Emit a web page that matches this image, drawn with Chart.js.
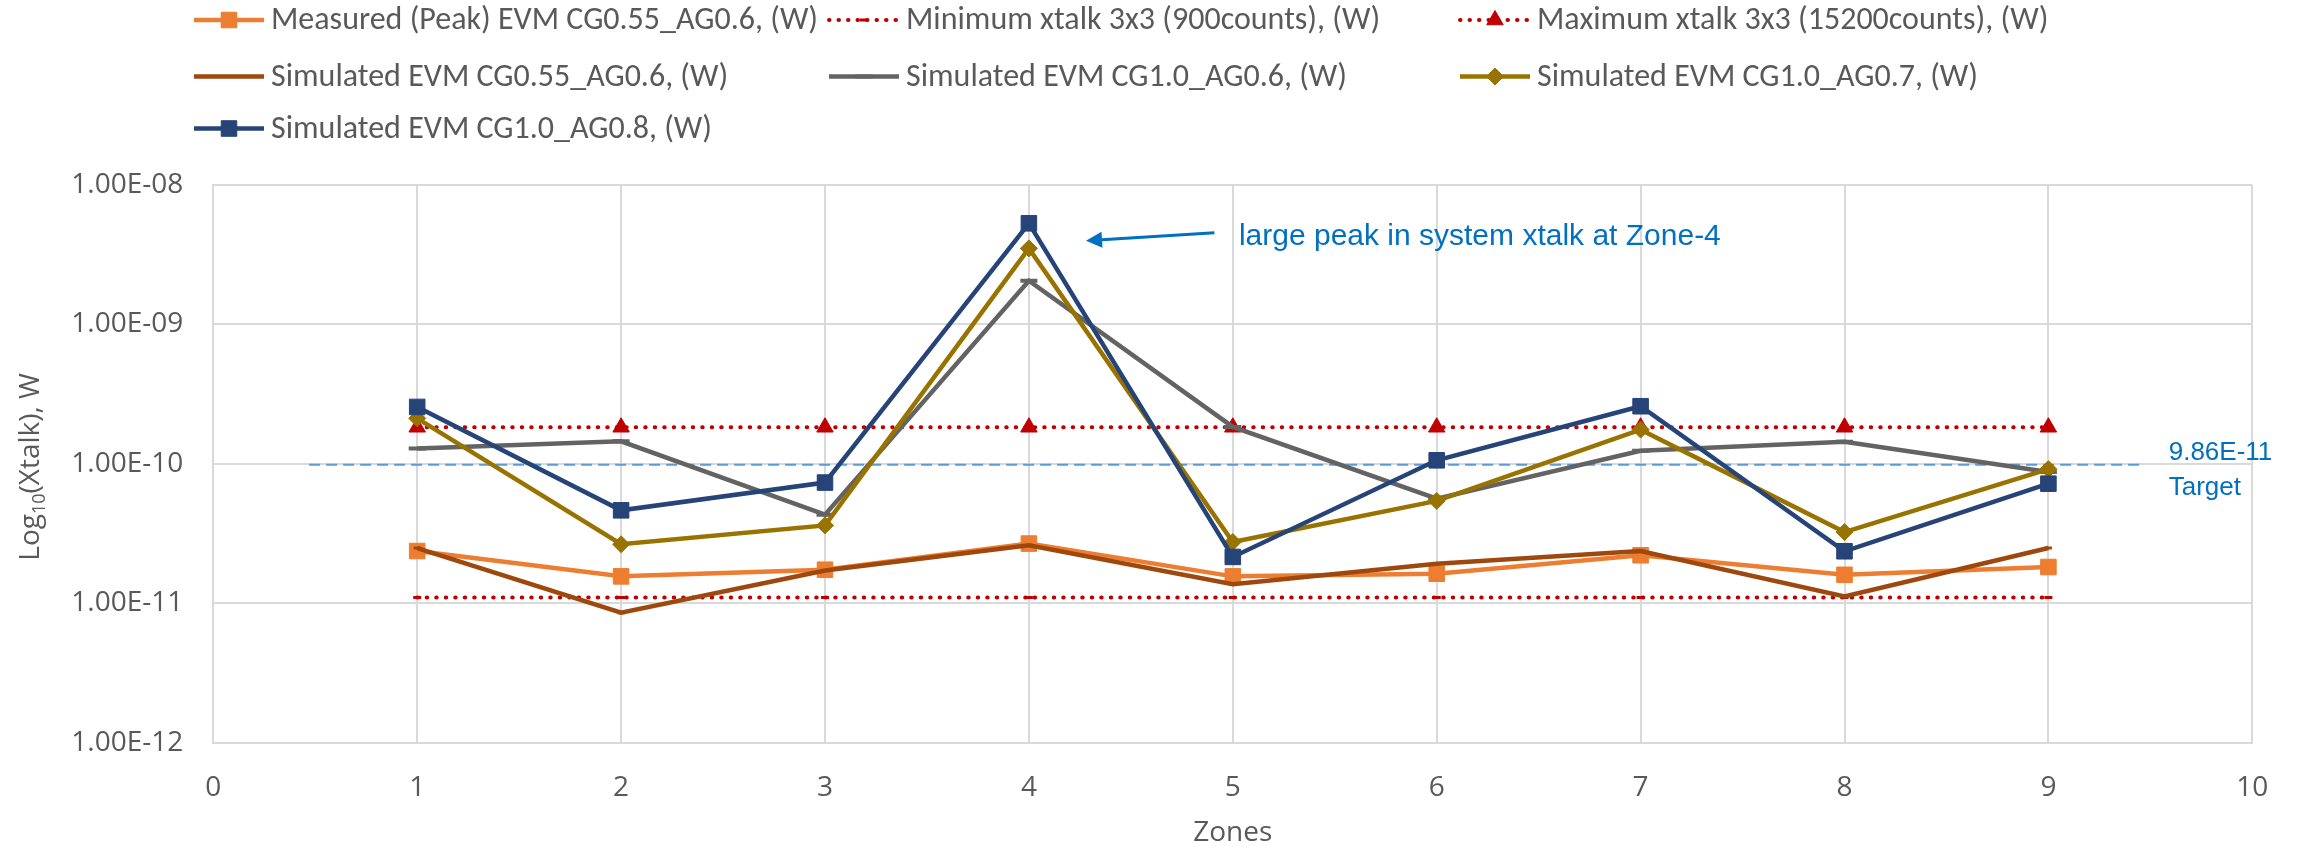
<!DOCTYPE html>
<html>
<head>
<meta charset="utf-8">
<title>Crosstalk per zone</title>
<script src="https://cdn.jsdelivr.net/npm/chart.js@4.4.1/dist/chart.umd.min.js"></script>
<style>
  html, body { margin: 0; padding: 0; background: #ffffff; }
  #wrap { width: 2303px; height: 846px; position: relative; }
</style>
</head>
<body>
<div id="wrap"><canvas id="xtalk"></canvas></div>
<script>
// ---- data ----
const zones = [1, 2, 3, 4, 5, 6, 7, 8, 9];

const measuredPeakCG055AG06 = [2.37e-11, 1.56e-11, 1.74e-11, 2.68e-11, 1.56e-11, 1.63e-11, 2.21e-11, 1.60e-11, 1.82e-11];
const minXtalk900 = [1.10e-11, 1.10e-11, 1.10e-11, 1.10e-11, 1.10e-11, 1.10e-11, 1.10e-11, 1.10e-11, 1.10e-11];
const maxXtalk15200 = [1.83e-10, 1.83e-10, 1.83e-10, 1.83e-10, 1.83e-10, 1.83e-10, 1.83e-10, 1.83e-10, 1.83e-10];
const simCG055AG06 = [2.49e-11, 8.55e-12, 1.72e-11, 2.61e-11, 1.37e-11, 1.92e-11, 2.37e-11, 1.12e-11, 2.49e-11];
const simCG10AG06 = [1.29e-10, 1.45e-10, 4.32e-11, 2.06e-9, 1.84e-10, 5.63e-11, 1.24e-10, 1.44e-10, 8.75e-11];
const simCG10AG07 = [2.12e-10, 2.65e-11, 3.62e-11, 3.51e-9, 2.75e-11, 5.42e-11, 1.76e-10, 3.24e-11, 9.16e-11];
const simCG10AG08 = [2.56e-10, 4.64e-11, 7.34e-11, 5.31e-9, 2.15e-11, 1.06e-10, 2.59e-10, 2.36e-11, 7.21e-11];

const targetLevel = 9.86e-11;
const targetSpan = [0.47, 9.47];

const seriesLabels = [
  'Measured (Peak) EVM CG0.55_AG0.6, (W)',
  'Minimum xtalk 3x3 (900counts), (W)',
  'Maximum xtalk 3x3 (15200counts), (W)',
  'Simulated EVM CG0.55_AG0.6, (W)',
  'Simulated EVM CG1.0_AG0.6, (W)',
  'Simulated EVM CG1.0_AG0.7, (W)',
  'Simulated EVM CG1.0_AG0.8, (W)'
];

const xTickValues = [0, 1, 2, 3, 4, 5, 6, 7, 8, 9, 10];
const yTickValues = [1e-12, 1e-11, 1e-10, 1e-9, 1e-8];
const yTickLabels = ['1.00E-12', '1.00E-11', '1.00E-10', '1.00E-09', '1.00E-08'];

const xAxisTitle = 'Zones';
const yAxisTitle = ['Log', '10', '(Xtalk), W'];
const peakNote = 'large peak in system xtalk at Zone-4';
const peakNoteAt = { x: 5.03, y: 4.26e-9 };
const peakArrow = { from: { x: 4.91, y: 4.55e-9 }, to: { x: 4.28, y: 3.98e-9 } };
const targetNote = ['9.86E-11', 'Target'];
const targetNoteX = 9.59;

// ---- styling ----
const TEXT_GREY = '#595959';
const NOTE_BLUE = '#0070C0';
const GRID = '#D9D9D9';
const AXIS_FONT = "'Open Sans'";

function pts(values) {
  return zones.map((z, i) => ({ x: z, y: values[i] }));
}

const solid = { borderWidth: 4.5, tension: 0, fill: false };
const dotted = { borderWidth: 4, borderDash: [0.5, 9], borderCapStyle: 'round', tension: 0, fill: false };

const datasets = [
  Object.assign({ label: seriesLabels[0], data: pts(measuredPeakCG055AG06), borderColor: '#ED7D31', backgroundColor: '#ED7D31',
    pointStyle: 'rect', pointRadius: 11, pointBorderWidth: 1, order: 7 }, solid),
  Object.assign({ label: seriesLabels[1], data: pts(minXtalk900), borderColor: '#C00000', backgroundColor: '#C00000',
    pointStyle: 'line', pointRadius: 4, pointBorderWidth: 3, order: 6 }, dotted),
  Object.assign({ label: seriesLabels[2], data: pts(maxXtalk15200), borderColor: '#C00000', backgroundColor: '#C00000',
    pointStyle: 'triangle', pointRadius: 9.5, pointBorderWidth: 1, order: 5 }, dotted),
  Object.assign({ label: seriesLabels[3], data: pts(simCG055AG06), borderColor: '#9E480E', backgroundColor: '#9E480E',
    pointStyle: 'line', pointRadius: 3.5, pointBorderWidth: 3, order: 4 }, solid),
  Object.assign({ label: seriesLabels[4], data: pts(simCG10AG06), borderColor: '#636363', backgroundColor: '#636363',
    pointStyle: 'line', pointRadius: 8.5, pointBorderWidth: 4, order: 3 }, solid),
  Object.assign({ label: seriesLabels[5], data: pts(simCG10AG07), borderColor: '#997300', backgroundColor: '#997300',
    pointStyle: 'rectRot', pointRadius: 8.5, pointBorderWidth: 1, order: 2 }, solid),
  Object.assign({ label: seriesLabels[6], data: pts(simCG10AG08), borderColor: '#264478', backgroundColor: '#264478',
    pointStyle: 'rect', pointRadius: 11, pointBorderWidth: 1, order: 1 }, solid),
  { label: 'Target', data: targetSpan.map(x => ({ x, y: targetLevel })), borderColor: '#5B9BD5', borderWidth: 2,
    borderDash: [11, 6], pointRadius: 0, tension: 0, fill: false, order: 9, inLegend: false }
];

// legend slots (left edge of sample line, row centre)
const legendSlots = [[194, 20], [829, 20], [1460, 20], [194, 76.5], [829, 76.5], [1460, 76.5], [194, 128.5]];
const LEGEND_FONT = "32px Carlito, Calibri, Lato, sans-serif";

function drawMarker(ctx, style, x, y, r, color, bw) {
  ctx.save();
  ctx.setLineDash([]);
  ctx.fillStyle = color;
  ctx.strokeStyle = color;
  ctx.lineWidth = bw;
  ctx.beginPath();
  if (style === 'rect') {
    const s = r * Math.SQRT1_2;
    ctx.rect(x - s, y - s, 2 * s, 2 * s);
    ctx.fill(); ctx.stroke();
  } else if (style === 'rectRot') {
    ctx.moveTo(x, y - r); ctx.lineTo(x + r, y); ctx.lineTo(x, y + r); ctx.lineTo(x - r, y); ctx.closePath();
    ctx.fill(); ctx.stroke();
  } else if (style === 'triangle') {
    const h = r * 1.5, half = r * Math.sqrt(3) / 2;
    ctx.moveTo(x, y - h * 2 / 3); ctx.lineTo(x + half, y + h / 3); ctx.lineTo(x - half, y + h / 3); ctx.closePath();
    ctx.fill(); ctx.stroke();
  } else if (style === 'line') {
    ctx.moveTo(x - r, y); ctx.lineTo(x + r, y);
    ctx.stroke();
  }
  ctx.restore();
}

const overlay = {
  id: 'overlay',
  afterDraw(chart) {
    const { ctx, chartArea, scales } = chart;
    const xs = scales.x, ys = scales.y;
    ctx.save();

    // legend
    let slot = 0;
    chart.data.datasets.forEach(ds => {
      if (ds.inLegend === false) return;
      const [lx, ly] = legendSlots[slot++];
      ctx.save();
      ctx.strokeStyle = ds.borderColor;
      ctx.lineWidth = ds.borderWidth;
      ctx.lineCap = ds.borderCapStyle || 'butt';
      ctx.setLineDash(ds.borderDash || []);
      ctx.beginPath();
      ctx.moveTo(lx, ly); ctx.lineTo(lx + 70, ly);
      ctx.stroke();
      ctx.restore();
      drawMarker(ctx, ds.pointStyle, lx + 35, ly, ds.pointRadius, ds.borderColor, ds.pointBorderWidth);
      ctx.fillStyle = TEXT_GREY;
      ctx.font = LEGEND_FONT;
      ctx.textAlign = 'left';
      ctx.textBaseline = 'middle';
      ctx.fillText(ds.label, lx + 77, ly + 1);
    });

    // y axis title with subscript
    ctx.save();
    const bigFont = "28px " + AXIS_FONT, smallFont = "18px " + AXIS_FONT;
    ctx.font = bigFont; const w0 = ctx.measureText(yAxisTitle[0]).width; const w2 = ctx.measureText(yAxisTitle[2]).width;
    ctx.font = smallFont; const w1 = ctx.measureText(yAxisTitle[1]).width;
    const total = w0 + w1 + w2;
    ctx.translate(39, (chartArea.top + chartArea.bottom) / 2 + 3);
    ctx.rotate(-Math.PI / 2);
    ctx.fillStyle = TEXT_GREY;
    ctx.textBaseline = 'alphabetic';
    ctx.textAlign = 'left';
    let cx = -total / 2;
    ctx.font = bigFont; ctx.fillText(yAxisTitle[0], cx, 0); cx += w0;
    ctx.font = smallFont; ctx.fillText(yAxisTitle[1], cx, 6); cx += w1;
    ctx.font = bigFont; ctx.fillText(yAxisTitle[2], cx, 0);
    ctx.restore();

    // x axis title
    ctx.fillStyle = TEXT_GREY;
    ctx.font = "28px " + AXIS_FONT;
    ctx.textAlign = 'center';
    ctx.textBaseline = 'middle';
    ctx.fillText(xAxisTitle, (chartArea.left + chartArea.right) / 2, 833);

    // peak call-out
    const ax0 = xs.getPixelForValue(peakArrow.from.x), ay0 = ys.getPixelForValue(peakArrow.from.y);
    const ax1 = xs.getPixelForValue(peakArrow.to.x), ay1 = ys.getPixelForValue(peakArrow.to.y);
    const ang = Math.atan2(ay1 - ay0, ax1 - ax0);
    const headLen = 16, headHalf = 8;
    const bx = ax1 - headLen * Math.cos(ang), by = ay1 - headLen * Math.sin(ang);
    ctx.strokeStyle = NOTE_BLUE; ctx.fillStyle = NOTE_BLUE; ctx.lineWidth = 3;
    ctx.beginPath(); ctx.moveTo(ax0, ay0); ctx.lineTo(bx, by); ctx.stroke();
    ctx.beginPath();
    ctx.moveTo(ax1, ay1);
    ctx.lineTo(bx + headHalf * Math.sin(ang), by - headHalf * Math.cos(ang));
    ctx.lineTo(bx - headHalf * Math.sin(ang), by + headHalf * Math.cos(ang));
    ctx.closePath(); ctx.fill();

    ctx.font = "30px 'Liberation Sans'";
    ctx.textAlign = 'left';
    ctx.textBaseline = 'middle';
    ctx.fillText(peakNote, xs.getPixelForValue(peakNoteAt.x), ys.getPixelForValue(peakNoteAt.y));

    // target label
    const ty = ys.getPixelForValue(targetLevel);
    const tx = xs.getPixelForValue(targetNoteX);
    ctx.font = "26px 'Liberation Sans'";
    ctx.fillText(targetNote[0], tx, ty - 12);
    ctx.fillText(targetNote[1], tx, ty + 23);

    ctx.restore();
  }
};

new Chart(document.getElementById('xtalk'), {
  type: 'line',
  data: { datasets },
  options: {
    responsive: true,
    maintainAspectRatio: false,
    animation: false,
    events: [],
    layout: { padding: { top: 185, right: 50.7, left: 0, bottom: 0 } },
    plugins: { legend: { display: false }, tooltip: { enabled: false }, title: { display: false } },
    scales: {
      x: {
        type: 'linear',
        min: 0, max: 10,
        afterBuildTicks: s => { s.ticks = xTickValues.map(v => ({ value: v })); },
        afterFit: s => { s.height = 103.3; },
        grid: { color: GRID, lineWidth: 2, drawTicks: false },
        border: { color: GRID, width: 2 },
        ticks: { padding: 29, color: TEXT_GREY, font: { family: AXIS_FONT, size: 28 }, callback: v => String(v) }
      },
      y: {
        type: 'logarithmic',
        min: 1e-12, max: 1e-8,
        afterBuildTicks: s => { s.ticks = yTickValues.map(v => ({ value: v })); },
        afterFit: s => { s.width = 213.3; },
        grid: { color: GRID, lineWidth: 2, drawTicks: false },
        border: { color: GRID, width: 2 },
        ticks: {
          padding: 30, color: TEXT_GREY, font: { family: AXIS_FONT, size: 28 },
          callback: v => { const i = yTickValues.indexOf(v); return i >= 0 ? yTickLabels[i] : ''; }
        }
      }
    }
  },
  plugins: [overlay]
});
</script>
</body>
</html>
